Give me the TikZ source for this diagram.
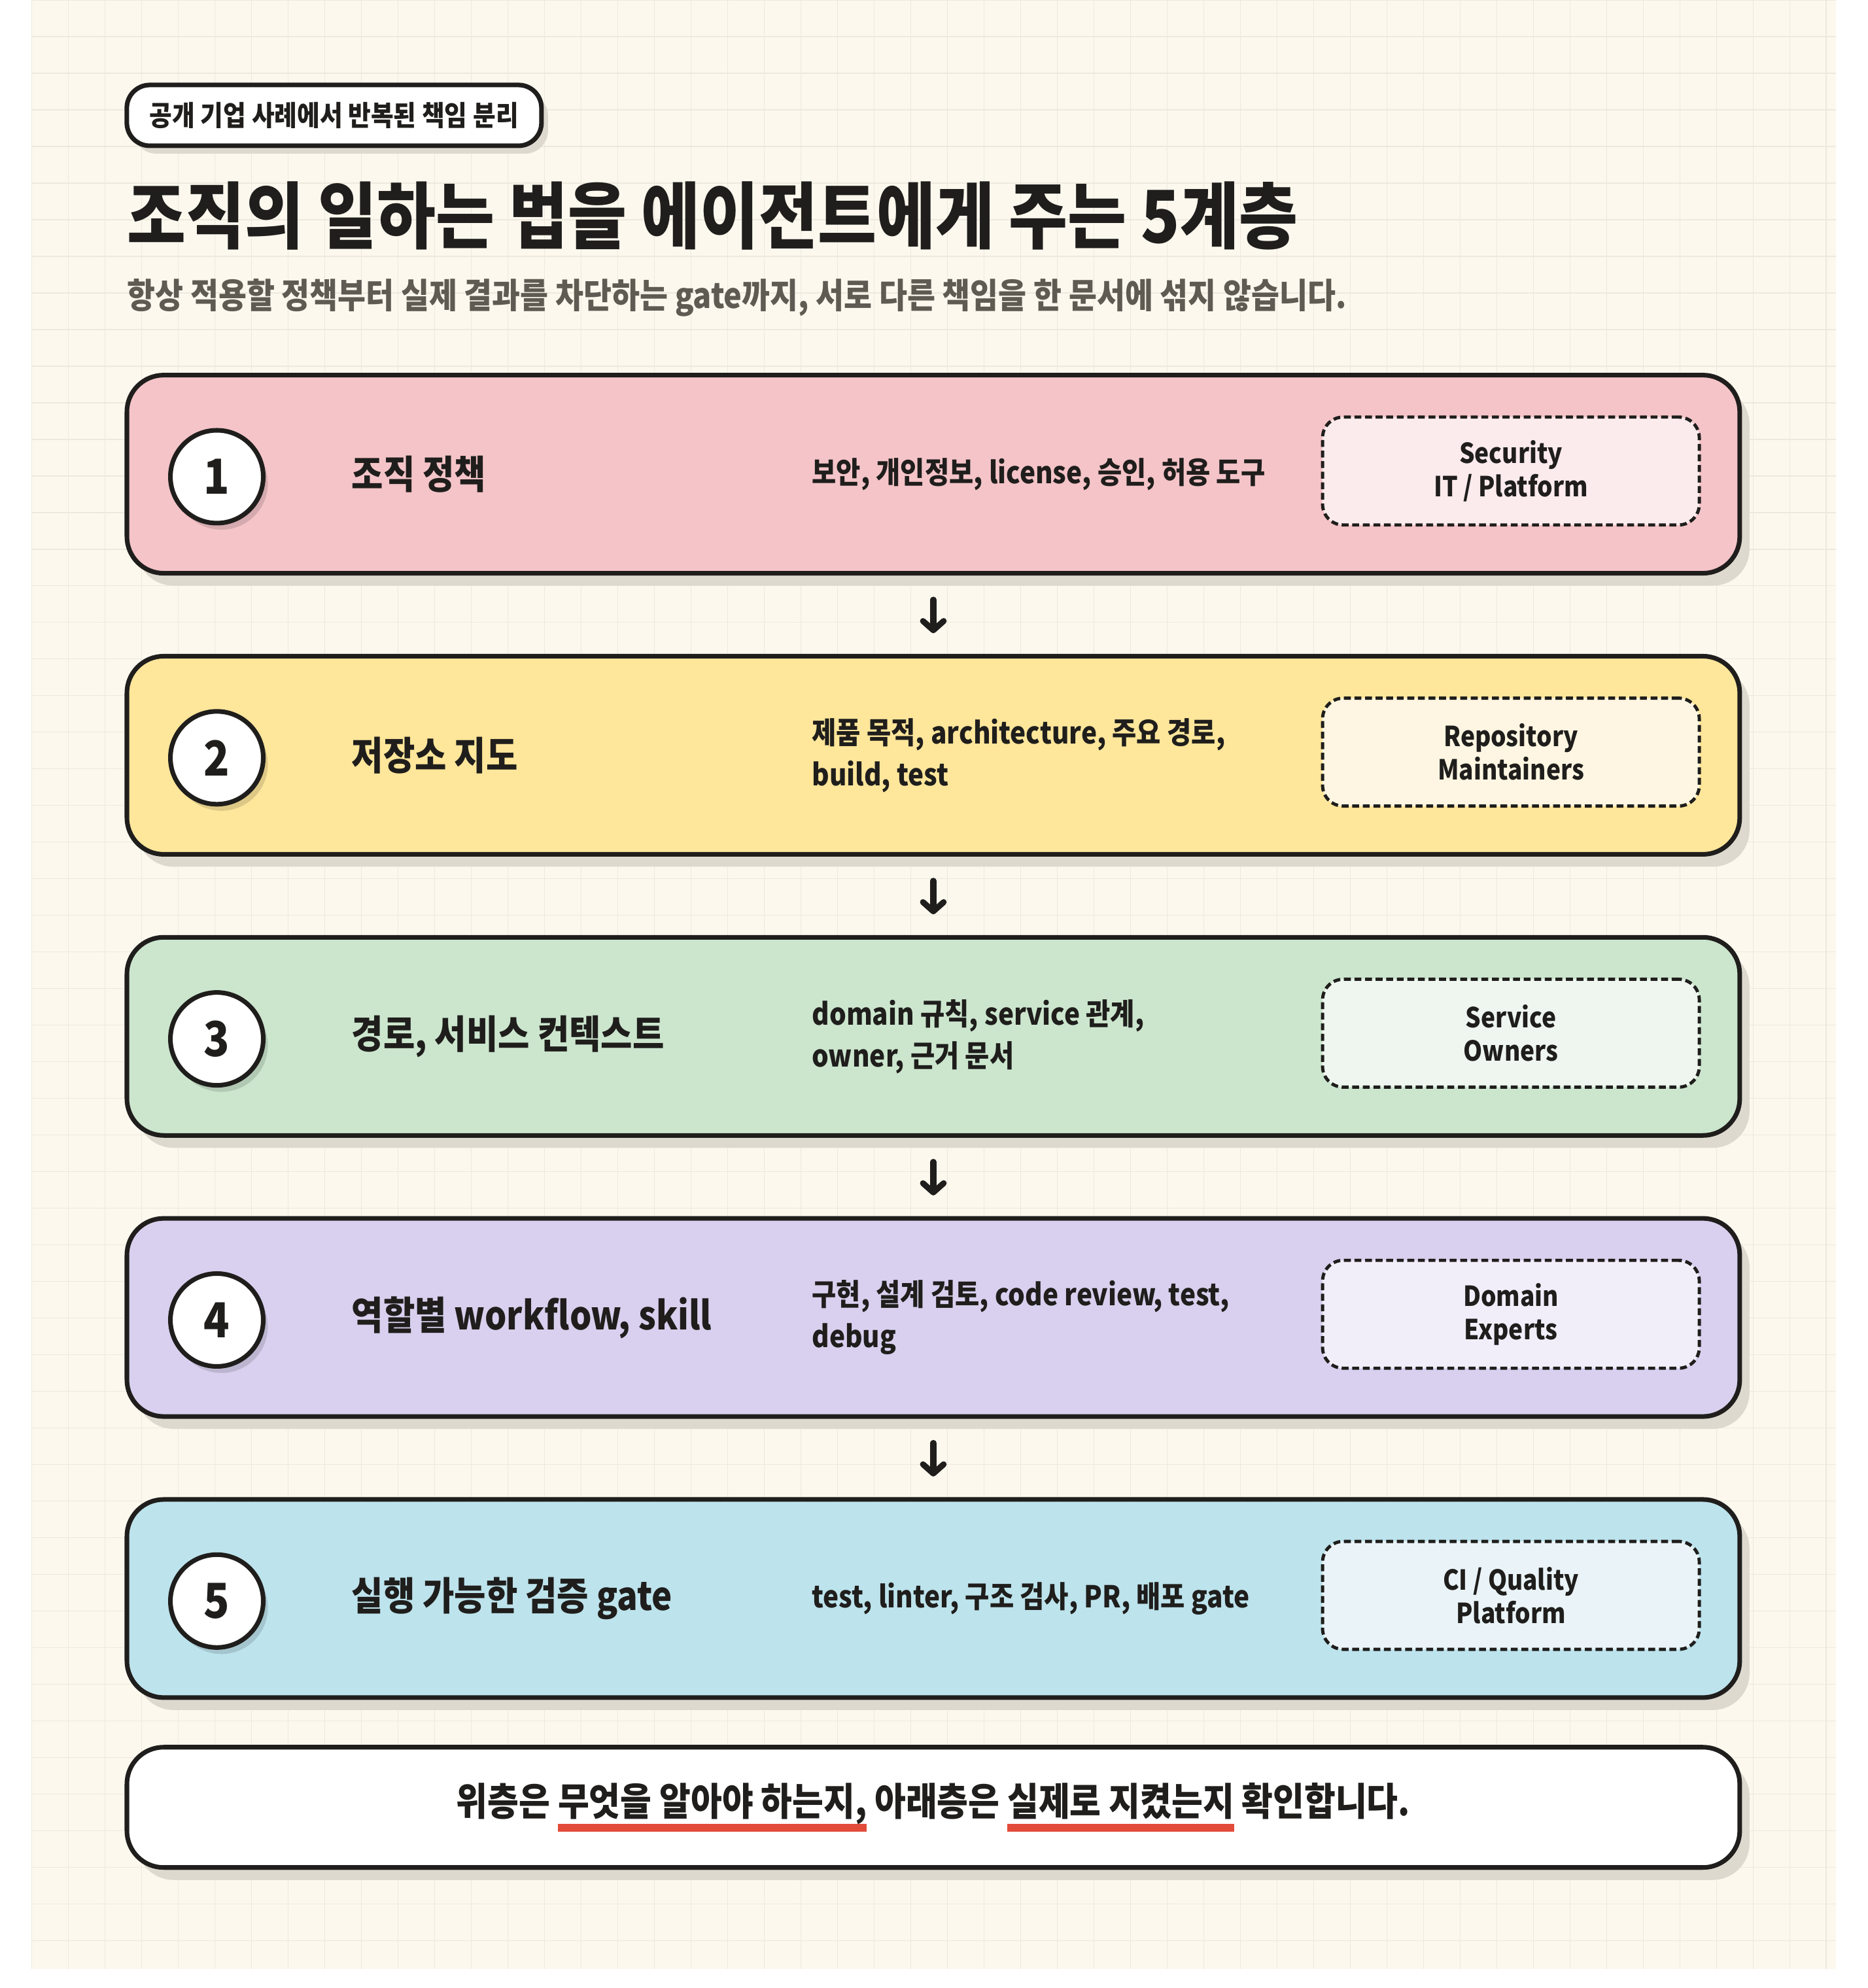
\documentclass[tikz,border=0pt]{standalone}
\usepackage{fontspec}
\setmainfont{Noto Sans CJK KR}[FakeStretch=0.88]
\usepackage{tikz}
\usetikzlibrary{shadows}
\usetikzlibrary{arrows.meta}
\definecolor{paper}{HTML}{FCF8EE}
\definecolor{gridc}{HTML}{EEE9DD}
\definecolor{ink}{HTML}{1F1E1C}
\definecolor{subgray}{HTML}{5F5A52}
\definecolor{shade}{HTML}{DED9CF}
\definecolor{barred}{HTML}{E24B3A}
\definecolor{pinkc}{HTML}{F4C4C8}
\definecolor{pinkl}{HTML}{FCEBEC}
\definecolor{yellowc}{HTML}{FEE69B}
\definecolor{yellowl}{HTML}{FEF6E2}
\definecolor{greenc}{HTML}{CCE6CE}
\definecolor{greenl}{HTML}{EEF6EF}
\definecolor{lilacc}{HTML}{D8D0EE}
\definecolor{lilacl}{HTML}{F1EEFA}
\definecolor{bluec}{HTML}{BDE3EC}
\definecolor{bluel}{HTML}{EAF4F8}
\newsavebox\phrasebox
\newcommand\redbar[1]{\sbox\phrasebox{#1}\rlap{\color{barred}\rule[-0.42em]{\wd\phrasebox}{0.2em}}\usebox\phrasebox}

\tikzset{
  gridline/.style={gridc, line width=0.35pt},
  layer/.style={draw=ink, line width=2pt, rounded corners=16pt,
    minimum width=24.66cm, minimum height=3.03cm,
    drop shadow={shadow xshift=0.15cm, shadow yshift=-0.19cm, fill=shade, opacity=1}},
  numdot/.style={circle, draw=ink, line width=2pt, fill=white, minimum size=1.42cm, inner sep=0,
    text=ink, font=\fontsize{21}{21}\selectfont\bfseries,
    drop shadow={shadow xshift=0.07cm, shadow yshift=-0.1cm, fill=black, opacity=0.13}},
  layername/.style={anchor=west, inner sep=0, text=ink, font=\fontsize{17}{20}\selectfont\bfseries},
  layerdesc/.style={anchor=west, inner sep=0, align=left, text=ink,
    font=\fontsize{13.1}{18.2}\selectfont\bfseries},
  ownerbox/.style={draw=ink, line width=1.4pt, dash pattern=on 3pt off 1.6pt, rounded corners=9pt,
    minimum width=5.76cm, minimum height=1.65cm, align=center, text=ink,
    font=\fontsize{12}{14.5}\selectfont\bfseries},
  flowarrow/.style={ink, line width=2.6pt, line cap=round,
    -{Straight Barb[length=4pt, width=9pt, round]}, shorten <=10.5pt, shorten >=9pt}
}

\begin{document}
\begin{tikzpicture}[x=0.1939mm, y=-0.1939mm]
  \path[use as bounding box] (0,0) rectangle (1473,1568);
  \fill[white] (0,0) rectangle (1473,1568);
  \fill[paper] (25,0) rectangle (1448,1553);
  \foreach \i in {0,...,49}
    \draw[gridline] (25+28.88*\i,0) -- (25+28.88*\i,1553);
  \foreach \j in {0,...,53}
    \draw[gridline] (25,28.88*\j) -- (1448,28.88*\j);

  % header
  \node[draw=ink, line width=2pt, rounded corners=10pt, fill=white, minimum width=6.34cm,
    minimum height=0.93cm, text=ink, font=\fontsize{12.2}{14}\selectfont\bfseries,
    drop shadow={shadow xshift=0.1cm, shadow yshift=-0.12cm, fill=shade, opacity=1}]
    (tag) at (263.5,91) {공개 기업 사례에서 반복된 책임 분리};
  \node[anchor=west, inner sep=0, text=ink, font=\fontsize{31.6}{34}\selectfont\bfseries]
    (title) at (100,170) {조직의 일하는 법을 에이전트에게 주는 5계층};
  \node[anchor=west, inner sep=0, text=subgray, font=\fontsize{15.1}{17}\selectfont\bfseries]
    (subtitle) at (100,235) {항상 적용할 정책부터 실제 결과를 차단하는 gate까지, 서로 다른 책임을 한 문서에 섞지 않습니다.};

  % five layers
  \foreach \n/\col/\lite/\what/\items/\who in {
    1/pinkc/pinkl/{조직 정책}/{보안, 개인정보, license, 승인, 허용 도구}/{Security\\IT {/} Platform},
    2/yellowc/yellowl/{저장소 지도}/{제품 목적, architecture, 주요 경로,\\build, test}/{Repository\\Maintainers},
    3/greenc/greenl/{경로, 서비스 컨텍스트}/{domain 규칙, service 관계,\\owner, 근거 문서}/{Service\\Owners},
    4/lilacc/lilacl/{역할별 workflow, skill}/{구현, 설계 검토, code review, test,\\debug}/{Domain\\Experts},
    5/bluec/bluel/{실행 가능한 검증 gate}/{test, linter, 구조 검사, PR, 배포 gate}/{CI {/} Quality\\Platform}} {
    \pgfmathsetmacro\yc{374+221.7*(\n-1)}
    \node[layer, fill=\col] (layer\n) at (736,\yc) {};
    \node[numdot] (num\n) at (171,\yc+2) {\n};
    \node[layername] (name\n) at (277,\yc) {\what};
    \node[layerdesc] (desc\n) at (640,\yc) {\items};
    \node[ownerbox, fill=\lite] (owner\n) at (1191.5,\yc-2.5) {\who};
  }
  \foreach \a/\b in {1/2,2/3,3/4,4/5}
    \draw[flowarrow] (layer\a) -- (layer\b);

  % summary
  \node[layer, fill=white, minimum height=1.84cm, text=ink, font=\fontsize{16.8}{19}\selectfont\bfseries]
    (summary) at (736,1425.5)
    {위층은 \redbar{무엇을 알아야 하는지,} 아래층은 \redbar{실제로 지켰는지} 확인합니다.};
\end{tikzpicture}
\end{document}
